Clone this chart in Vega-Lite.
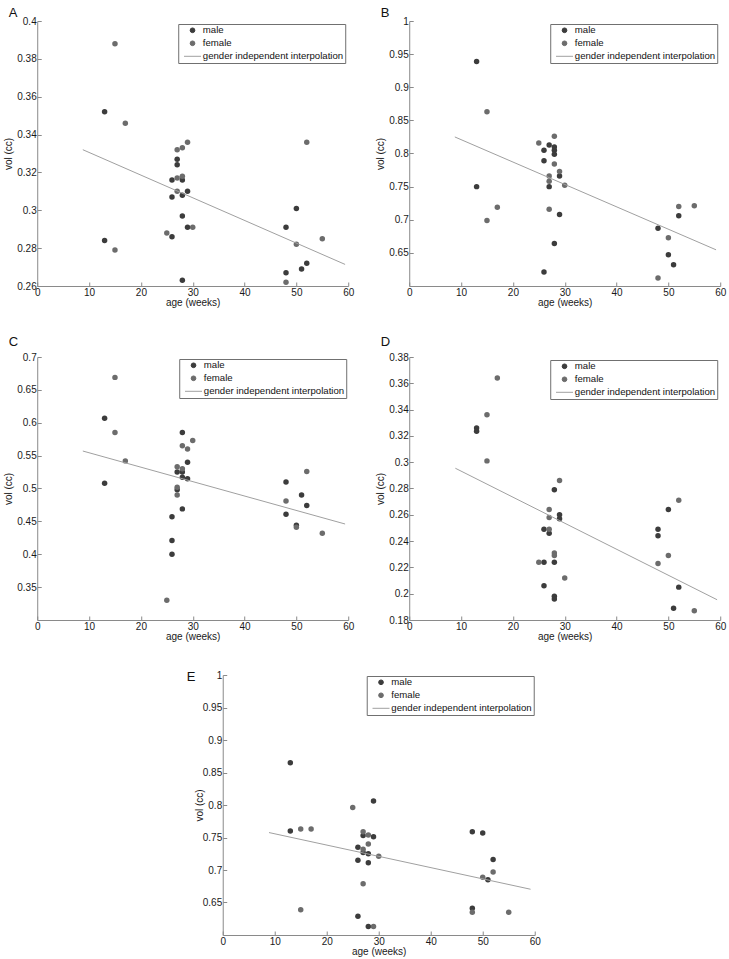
{
  "$schema": "https://vega.github.io/schema/vega-lite/v6.json",
  "background": "white",
  "padding": {"left": 3, "top": 7, "right": 2, "bottom": 2},
  "spacing": 29,
  "center": true,
  "resolve": {"scale": {"color": "independent"}, "legend": {"color": "independent"}},
  "config": {
    "view": {"stroke": null},
    "font": "Liberation Sans",
    "axis": {"grid": false, "domainColor": "#8a8a8a", "tickColor": "#8a8a8a", "tickSize": -4, "labelPadding": 5, "labelFontSize": 10, "labelColor": "#1a1a1a", "titleFontSize": 10, "titleFontWeight": "normal", "titleColor": "#1a1a1a", "labelFlush": false, "labelOverlap": false, "labelFont": "Liberation Sans", "titleFont": "Liberation Sans"},
    "axisX": {"titlePadding": 0},
    "axisY": {"titlePadding": 3},
    "title": {"anchor": "start", "fontSize": 13, "fontWeight": "normal", "color": "#111111", "frame": "bounds", "font": "Liberation Sans", "dx": 5, "offset": -4},
    "legend": {"title": null, "orient": "top-right", "offset": 3, "strokeColor": "#707070", "fillColor": "white", "padding": 1.5, "labelFontSize": 9.6, "labelColor": "#111111", "labelFont": "Liberation Sans", "rowPadding": 2, "symbolSize": 100, "symbolOffset": 8, "labelOffset": 5.5, "symbolOpacity": 1}
  },
  "datasets": {
    "A": [
      {"age": 13, "vol": 0.352, "series": "male"}, {"age": 13, "vol": 0.284, "series": "male"}, {"age": 27, "vol": 0.327, "series": "male"}, {"age": 27, "vol": 0.324, "series": "male"}, {"age": 26, "vol": 0.316, "series": "male"}, {"age": 28, "vol": 0.316, "series": "male"}, {"age": 29, "vol": 0.310, "series": "male"}, {"age": 26, "vol": 0.307, "series": "male"}, {"age": 28, "vol": 0.308, "series": "male"}, {"age": 28, "vol": 0.297, "series": "male"}, {"age": 29, "vol": 0.291, "series": "male"}, {"age": 26, "vol": 0.286, "series": "male"}, {"age": 28, "vol": 0.263, "series": "male"}, {"age": 50, "vol": 0.301, "series": "male"}, {"age": 48, "vol": 0.291, "series": "male"}, {"age": 52, "vol": 0.272, "series": "male"}, {"age": 51, "vol": 0.269, "series": "male"}, {"age": 48, "vol": 0.267, "series": "male"},
      {"age": 15, "vol": 0.388, "series": "female"}, {"age": 17, "vol": 0.346, "series": "female"}, {"age": 29, "vol": 0.336, "series": "female"}, {"age": 28, "vol": 0.333, "series": "female"}, {"age": 27, "vol": 0.332, "series": "female"}, {"age": 28, "vol": 0.318, "series": "female"}, {"age": 27, "vol": 0.317, "series": "female"}, {"age": 27, "vol": 0.310, "series": "female"}, {"age": 30, "vol": 0.291, "series": "female"}, {"age": 25, "vol": 0.288, "series": "female"}, {"age": 15, "vol": 0.279, "series": "female"}, {"age": 52, "vol": 0.336, "series": "female"}, {"age": 50, "vol": 0.282, "series": "female"}, {"age": 55, "vol": 0.285, "series": "female"}, {"age": 48, "vol": 0.262, "series": "female"},
      {"age": 8.8, "vol": 0.332, "series": "gender independent interpolation"}, {"age": 59.4, "vol": 0.2714, "series": "gender independent interpolation"}
    ],
    "B": [
      {"age": 13, "vol": 0.939, "series": "male"}, {"age": 13, "vol": 0.750, "series": "male"}, {"age": 27, "vol": 0.813, "series": "male"}, {"age": 28, "vol": 0.810, "series": "male"}, {"age": 26, "vol": 0.805, "series": "male"}, {"age": 28, "vol": 0.805, "series": "male"}, {"age": 28, "vol": 0.799, "series": "male"}, {"age": 26, "vol": 0.789, "series": "male"}, {"age": 29, "vol": 0.766, "series": "male"}, {"age": 27, "vol": 0.750, "series": "male"}, {"age": 29, "vol": 0.708, "series": "male"}, {"age": 28, "vol": 0.664, "series": "male"}, {"age": 26, "vol": 0.621, "series": "male"}, {"age": 48, "vol": 0.687, "series": "male"}, {"age": 52, "vol": 0.706, "series": "male"}, {"age": 50, "vol": 0.647, "series": "male"}, {"age": 51, "vol": 0.632, "series": "male"},
      {"age": 15, "vol": 0.863, "series": "female"}, {"age": 25, "vol": 0.816, "series": "female"}, {"age": 28, "vol": 0.826, "series": "female"}, {"age": 28, "vol": 0.784, "series": "female"}, {"age": 29, "vol": 0.773, "series": "female"}, {"age": 27, "vol": 0.766, "series": "female"}, {"age": 27, "vol": 0.758, "series": "female"}, {"age": 30, "vol": 0.752, "series": "female"}, {"age": 17, "vol": 0.719, "series": "female"}, {"age": 15, "vol": 0.699, "series": "female"}, {"age": 27, "vol": 0.716, "series": "female"}, {"age": 48, "vol": 0.612, "series": "female"}, {"age": 50, "vol": 0.673, "series": "female"}, {"age": 52, "vol": 0.720, "series": "female"}, {"age": 55, "vol": 0.721, "series": "female"},
      {"age": 8.8, "vol": 0.825, "series": "gender independent interpolation"}, {"age": 59.2, "vol": 0.6546, "series": "gender independent interpolation"}
    ],
    "C": [
      {"age": 13, "vol": 0.607, "series": "male"}, {"age": 13, "vol": 0.508, "series": "male"}, {"age": 28, "vol": 0.585, "series": "male"}, {"age": 29, "vol": 0.540, "series": "male"}, {"age": 27, "vol": 0.525, "series": "male"}, {"age": 28, "vol": 0.525, "series": "male"}, {"age": 28, "vol": 0.517, "series": "male"}, {"age": 29, "vol": 0.515, "series": "male"}, {"age": 27, "vol": 0.498, "series": "male"}, {"age": 28, "vol": 0.469, "series": "male"}, {"age": 26, "vol": 0.457, "series": "male"}, {"age": 26, "vol": 0.421, "series": "male"}, {"age": 26, "vol": 0.400, "series": "male"}, {"age": 48, "vol": 0.510, "series": "male"}, {"age": 51, "vol": 0.490, "series": "male"}, {"age": 52, "vol": 0.474, "series": "male"}, {"age": 48, "vol": 0.461, "series": "male"}, {"age": 50, "vol": 0.444, "series": "male"},
      {"age": 15, "vol": 0.669, "series": "female"}, {"age": 15, "vol": 0.585, "series": "female"}, {"age": 17, "vol": 0.542, "series": "female"}, {"age": 30, "vol": 0.573, "series": "female"}, {"age": 28, "vol": 0.565, "series": "female"}, {"age": 29, "vol": 0.560, "series": "female"}, {"age": 27, "vol": 0.533, "series": "female"}, {"age": 28, "vol": 0.530, "series": "female"}, {"age": 27, "vol": 0.502, "series": "female"}, {"age": 27, "vol": 0.490, "series": "female"}, {"age": 25, "vol": 0.330, "series": "female"}, {"age": 52, "vol": 0.526, "series": "female"}, {"age": 48, "vol": 0.481, "series": "female"}, {"age": 50, "vol": 0.441, "series": "female"}, {"age": 55, "vol": 0.432, "series": "female"},
      {"age": 8.8, "vol": 0.557, "series": "gender independent interpolation"}, {"age": 59.4, "vol": 0.446, "series": "gender independent interpolation"}
    ],
    "D": [
      {"age": 13, "vol": 0.326, "series": "male"}, {"age": 13, "vol": 0.3235, "series": "male"}, {"age": 28, "vol": 0.279, "series": "male"}, {"age": 29, "vol": 0.260, "series": "male"}, {"age": 29, "vol": 0.257, "series": "male"}, {"age": 26, "vol": 0.249, "series": "male"}, {"age": 27, "vol": 0.246, "series": "male"}, {"age": 28, "vol": 0.224, "series": "male"}, {"age": 26, "vol": 0.224, "series": "male"}, {"age": 26, "vol": 0.206, "series": "male"}, {"age": 28, "vol": 0.198, "series": "male"}, {"age": 28, "vol": 0.196, "series": "male"}, {"age": 50, "vol": 0.264, "series": "male"}, {"age": 48, "vol": 0.249, "series": "male"}, {"age": 48, "vol": 0.244, "series": "male"}, {"age": 52, "vol": 0.205, "series": "male"}, {"age": 51, "vol": 0.189, "series": "male"},
      {"age": 17, "vol": 0.364, "series": "female"}, {"age": 15, "vol": 0.336, "series": "female"}, {"age": 15, "vol": 0.301, "series": "female"}, {"age": 29, "vol": 0.286, "series": "female"}, {"age": 27, "vol": 0.264, "series": "female"}, {"age": 27, "vol": 0.258, "series": "female"}, {"age": 27, "vol": 0.249, "series": "female"}, {"age": 28, "vol": 0.231, "series": "female"}, {"age": 28, "vol": 0.229, "series": "female"}, {"age": 25, "vol": 0.224, "series": "female"}, {"age": 30, "vol": 0.212, "series": "female"}, {"age": 52, "vol": 0.271, "series": "female"}, {"age": 50, "vol": 0.229, "series": "female"}, {"age": 48, "vol": 0.223, "series": "female"}, {"age": 55, "vol": 0.187, "series": "female"},
      {"age": 8.9, "vol": 0.2954, "series": "gender independent interpolation"}, {"age": 59.4, "vol": 0.1954, "series": "gender independent interpolation"}
    ],
    "E": [
      {"age": 13, "vol": 0.865, "series": "male"}, {"age": 13, "vol": 0.760, "series": "male"}, {"age": 29, "vol": 0.806, "series": "male"}, {"age": 27, "vol": 0.753, "series": "male"}, {"age": 29, "vol": 0.751, "series": "male"}, {"age": 26, "vol": 0.735, "series": "male"}, {"age": 27, "vol": 0.727, "series": "male"}, {"age": 28, "vol": 0.725, "series": "male"}, {"age": 26, "vol": 0.715, "series": "male"}, {"age": 28, "vol": 0.711, "series": "male"}, {"age": 26, "vol": 0.629, "series": "male"}, {"age": 28, "vol": 0.613, "series": "male"}, {"age": 48, "vol": 0.759, "series": "male"}, {"age": 50, "vol": 0.757, "series": "male"}, {"age": 52, "vol": 0.716, "series": "male"}, {"age": 51, "vol": 0.685, "series": "male"}, {"age": 48, "vol": 0.641, "series": "male"},
      {"age": 25, "vol": 0.796, "series": "female"}, {"age": 15, "vol": 0.763, "series": "female"}, {"age": 17, "vol": 0.763, "series": "female"}, {"age": 27, "vol": 0.759, "series": "female"}, {"age": 28, "vol": 0.754, "series": "female"}, {"age": 28, "vol": 0.740, "series": "female"}, {"age": 27, "vol": 0.732, "series": "female"}, {"age": 30, "vol": 0.721, "series": "female"}, {"age": 27, "vol": 0.679, "series": "female"}, {"age": 15, "vol": 0.639, "series": "female"}, {"age": 29, "vol": 0.613, "series": "female"}, {"age": 52, "vol": 0.697, "series": "female"}, {"age": 50, "vol": 0.689, "series": "female"}, {"age": 48, "vol": 0.635, "series": "female"}, {"age": 55, "vol": 0.635, "series": "female"},
      {"age": 8.9, "vol": 0.7576, "series": "gender independent interpolation"}, {"age": 59.2, "vol": 0.6704, "series": "gender independent interpolation"}
    ]
  },
  "vconcat": [
    {
      "spacing": 21,
      "resolve": {"scale": {"color": "independent"}, "legend": {"color": "independent"}},
      "hconcat": [
        {
          "title": {"text": "A"},
          "width": 311, "height": 265,
          "data": {"name": "A"},
          "encoding": {
            "x": {"field": "age", "type": "quantitative", "scale": {"domain": [0, 60], "nice": false}, "axis": {"title": "age (weeks)", "values": [0, 10, 20, 30, 40, 50, 60], "format": "d"}},
            "y": {"field": "vol", "type": "quantitative", "scale": {"domain": [0.26, 0.4], "nice": false, "zero": false}, "axis": {"title": "vol (cc)", "values": [0.26, 0.28, 0.3, 0.32, 0.34, 0.36, 0.38, 0.4], "format": ".2~f"}},
            "color": {"field": "series", "type": "nominal", "sort": null, "scale": {"domain": ["male", "female", "gender independent interpolation"], "range": ["#3c3c3c", "#6c6c6c", "#a0a0a0"]},
              "legend": {"offset": 3, "encode": {"symbols": {"update": {
                "shape": {"signal": "datum.value === 'gender independent interpolation' ? 'stroke' : 'circle'"},
                "size": {"signal": "datum.value === 'gender independent interpolation' ? 289 : 22"},
                "fill": {"signal": "datum.value === 'male' ? '#3c3c3c' : datum.value === 'female' ? '#6c6c6c' : 'transparent'"},
                "stroke": {"signal": "datum.value === 'gender independent interpolation' ? '#a0a0a0' : 'transparent'"},
                "strokeWidth": {"value": 1}, "opacity": {"value": 1}}}}}}
          },
          "layer": [
            {"transform": [{"filter": "datum.series !== 'gender independent interpolation'"}], "mark": {"type": "circle", "size": 30, "opacity": 1}},
            {"transform": [{"filter": "datum.series === 'gender independent interpolation'"}], "mark": {"type": "line", "strokeWidth": 1}}
          ]
        },
        {
          "title": {"text": "B"},
          "width": 311, "height": 265,
          "data": {"name": "B"},
          "encoding": {
            "x": {"field": "age", "type": "quantitative", "scale": {"domain": [0, 60], "nice": false}, "axis": {"title": "age (weeks)", "values": [0, 10, 20, 30, 40, 50, 60], "format": "d"}},
            "y": {"field": "vol", "type": "quantitative", "scale": {"domain": [0.6, 1], "nice": false, "zero": false}, "axis": {"title": "vol (cc)", "values": [0.65, 0.7, 0.75, 0.8, 0.85, 0.9, 0.95, 1], "format": ".2~f"}},
            "color": {"field": "series", "type": "nominal", "sort": null, "scale": {"domain": ["male", "female", "gender independent interpolation"], "range": ["#3c3c3c", "#6c6c6c", "#a0a0a0"]},
              "legend": {"offset": 3, "encode": {"symbols": {"update": {
                "shape": {"signal": "datum.value === 'gender independent interpolation' ? 'stroke' : 'circle'"},
                "size": {"signal": "datum.value === 'gender independent interpolation' ? 289 : 22"},
                "fill": {"signal": "datum.value === 'male' ? '#3c3c3c' : datum.value === 'female' ? '#6c6c6c' : 'transparent'"},
                "stroke": {"signal": "datum.value === 'gender independent interpolation' ? '#a0a0a0' : 'transparent'"},
                "strokeWidth": {"value": 1}, "opacity": {"value": 1}}}}}}
          },
          "layer": [
            {"transform": [{"filter": "datum.series !== 'gender independent interpolation'"}], "mark": {"type": "circle", "size": 30, "opacity": 1}},
            {"transform": [{"filter": "datum.series === 'gender independent interpolation'"}], "mark": {"type": "line", "strokeWidth": 1}}
          ]
        }
      ]
    },
    {
      "spacing": 21,
      "resolve": {"scale": {"color": "independent"}, "legend": {"color": "independent"}},
      "hconcat": [
        {
          "title": {"text": "C", "offset": 3},
          "width": 311, "height": 263,
          "data": {"name": "C"},
          "encoding": {
            "x": {"field": "age", "type": "quantitative", "scale": {"domain": [0, 60], "nice": false}, "axis": {"title": "age (weeks)", "values": [0, 10, 20, 30, 40, 50, 60], "format": "d"}},
            "y": {"field": "vol", "type": "quantitative", "scale": {"domain": [0.3, 0.7], "nice": false, "zero": false}, "axis": {"title": "vol (cc)", "values": [0.35, 0.4, 0.45, 0.5, 0.55, 0.6, 0.65, 0.7], "format": ".2~f"}},
            "color": {"field": "series", "type": "nominal", "sort": null, "scale": {"domain": ["male", "female", "gender independent interpolation"], "range": ["#3c3c3c", "#6c6c6c", "#a0a0a0"]},
              "legend": {"offset": 2, "encode": {"symbols": {"update": {
                "shape": {"signal": "datum.value === 'gender independent interpolation' ? 'stroke' : 'circle'"},
                "size": {"signal": "datum.value === 'gender independent interpolation' ? 289 : 22"},
                "fill": {"signal": "datum.value === 'male' ? '#3c3c3c' : datum.value === 'female' ? '#6c6c6c' : 'transparent'"},
                "stroke": {"signal": "datum.value === 'gender independent interpolation' ? '#a0a0a0' : 'transparent'"},
                "strokeWidth": {"value": 1}, "opacity": {"value": 1}}}}}}
          },
          "layer": [
            {"transform": [{"filter": "datum.series !== 'gender independent interpolation'"}], "mark": {"type": "circle", "size": 30, "opacity": 1}},
            {"transform": [{"filter": "datum.series === 'gender independent interpolation'"}], "mark": {"type": "line", "strokeWidth": 1}}
          ]
        },
        {
          "title": {"text": "D", "offset": 3},
          "width": 311, "height": 263,
          "data": {"name": "D"},
          "encoding": {
            "x": {"field": "age", "type": "quantitative", "scale": {"domain": [0, 60], "nice": false}, "axis": {"title": "age (weeks)", "values": [0, 10, 20, 30, 40, 50, 60], "format": "d"}},
            "y": {"field": "vol", "type": "quantitative", "scale": {"domain": [0.18, 0.38], "nice": false, "zero": false}, "axis": {"title": "vol (cc)", "values": [0.18, 0.2, 0.22, 0.24, 0.26, 0.28, 0.3, 0.32, 0.34, 0.36, 0.38], "format": ".2~f"}},
            "color": {"field": "series", "type": "nominal", "sort": null, "scale": {"domain": ["male", "female", "gender independent interpolation"], "range": ["#3c3c3c", "#6c6c6c", "#a0a0a0"]},
              "legend": {"offset": 3, "encode": {"symbols": {"update": {
                "shape": {"signal": "datum.value === 'gender independent interpolation' ? 'stroke' : 'circle'"},
                "size": {"signal": "datum.value === 'gender independent interpolation' ? 289 : 22"},
                "fill": {"signal": "datum.value === 'male' ? '#3c3c3c' : datum.value === 'female' ? '#6c6c6c' : 'transparent'"},
                "stroke": {"signal": "datum.value === 'gender independent interpolation' ? '#a0a0a0' : 'transparent'"},
                "strokeWidth": {"value": 1}, "opacity": {"value": 1}}}}}}
          },
          "layer": [
            {"transform": [{"filter": "datum.series !== 'gender independent interpolation'"}], "mark": {"type": "circle", "size": 30, "opacity": 1}},
            {"transform": [{"filter": "datum.series === 'gender independent interpolation'"}], "mark": {"type": "line", "strokeWidth": 1}}
          ]
        }
      ]
    },
    {
      "title": {"text": "E", "offset": -14, "dx": -8},
      "width": 312, "height": 260,
      "data": {"name": "E"},
      "encoding": {
        "x": {"field": "age", "type": "quantitative", "scale": {"domain": [0, 60], "nice": false}, "axis": {"title": "age (weeks)", "values": [0, 10, 20, 30, 40, 50, 60], "format": "d"}},
        "y": {"field": "vol", "type": "quantitative", "scale": {"domain": [0.6, 1], "nice": false, "zero": false}, "axis": {"title": "vol (cc)", "titleX": -18, "values": [0.65, 0.7, 0.75, 0.8, 0.85, 0.9, 0.95, 1], "format": ".2~f"}},
        "color": {"field": "series", "type": "nominal", "sort": null, "scale": {"domain": ["male", "female", "gender independent interpolation"], "range": ["#3c3c3c", "#6c6c6c", "#a0a0a0"]},
          "legend": {"offset": 1, "encode": {"symbols": {"update": {
            "shape": {"signal": "datum.value === 'gender independent interpolation' ? 'stroke' : 'circle'"},
            "size": {"signal": "datum.value === 'gender independent interpolation' ? 289 : 22"},
            "fill": {"signal": "datum.value === 'male' ? '#3c3c3c' : datum.value === 'female' ? '#6c6c6c' : 'transparent'"},
            "stroke": {"signal": "datum.value === 'gender independent interpolation' ? '#a0a0a0' : 'transparent'"},
            "strokeWidth": {"value": 1}, "opacity": {"value": 1}}}}}}
      },
      "layer": [
        {"transform": [{"filter": "datum.series !== 'gender independent interpolation'"}], "mark": {"type": "circle", "size": 30, "opacity": 1}},
        {"transform": [{"filter": "datum.series === 'gender independent interpolation'"}], "mark": {"type": "line", "strokeWidth": 1}}
      ]
    }
  ]
}
